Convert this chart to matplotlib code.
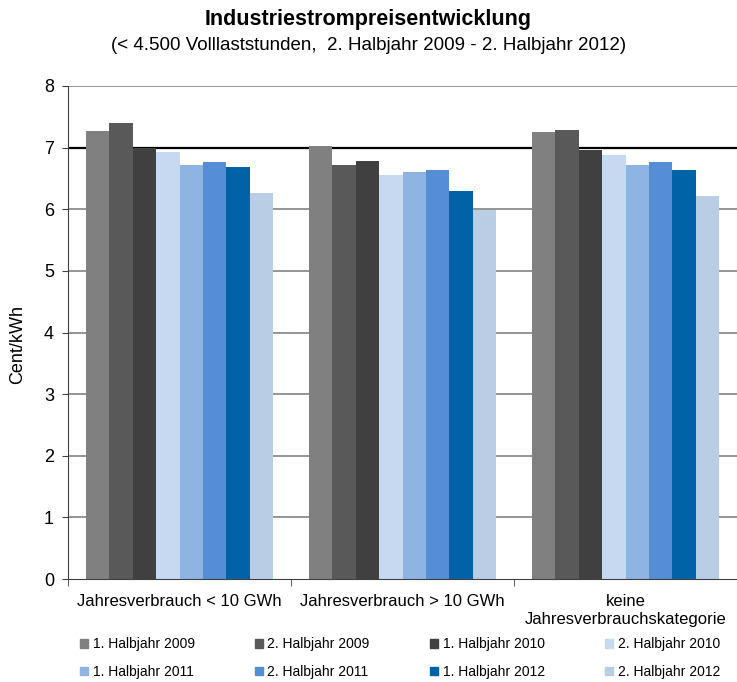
import numpy as np
import matplotlib
matplotlib.use("Agg")
import matplotlib.pyplot as plt
from matplotlib.patches import Patch

plt.rcParams['font.family'] = ['Liberation Sans', 'DejaVu Sans']

categories = ["Jahresverbrauch < 10 GWh", "Jahresverbrauch > 10 GWh",
              "keine\nJahresverbrauchskategorie"]
series_names = ["1. Halbjahr 2009", "2. Halbjahr 2009", "1. Halbjahr 2010",
                "2. Halbjahr 2010", "1. Halbjahr 2011", "2. Halbjahr 2011",
                "1. Halbjahr 2012", "2. Halbjahr 2012"]
h1_2009 = [7.27, 7.03, 7.26]
h2_2009 = [7.40, 6.72, 7.29]
h1_2010 = [6.99, 6.79, 6.96]
h2_2010 = [6.93, 6.56, 6.88]
h1_2011 = [6.72, 6.60, 6.72]
h2_2011 = [6.77, 6.63, 6.76]
h1_2012 = [6.69, 6.29, 6.63]
h2_2012 = [6.27, 5.99, 6.22]
values = [h1_2009, h2_2009, h1_2010, h2_2010, h1_2011, h2_2011, h1_2012, h2_2012]
colors = ["#808080", "#595959", "#404040", "#C6D9F1",
          "#8EB4E3", "#558ED5", "#0063A8", "#B9CDE5"]

fig = plt.figure(figsize=(7.37, 6.82), dpi=100)
ax = fig.add_axes([68 / 737, 1 - 579 / 682, 669 / 737, 493 / 682])

x = np.arange(len(categories))
n = len(series_names)
bw = 0.84 / n
for i, (vals, c) in enumerate(zip(values, colors)):
    ax.bar(x - 0.42 + bw * (i + 0.5), vals, width=bw, color=c, zorder=2)

ax.set_xlim(-0.5, 2.5)
ax.set_ylim(0, 8)
ax.set_yticks(range(0, 9))
for yv in range(1, 9):
    ax.axhline(yv, color="black" if yv == 7 else "#8c8c8c", lw=1.6 if yv == 7 else 1.3, zorder=1)

ax.set_xticks(x)
ax.set_xticklabels(categories, fontsize=12)
ax.set_xticks([-0.5, 0.5, 1.5, 2.5], minor=True)
ax.tick_params(axis='x', which='major', length=0, pad=11)
ax.tick_params(axis='x', which='minor', length=5, color="#404040")
ax.tick_params(axis='y', labelsize=13, length=4, color="#404040", pad=6)
for s in ["top", "right"]:
    ax.spines[s].set_visible(False)
ax.spines["left"].set_color("#404040")
ax.spines["bottom"].set_color("#404040")
ax.set_ylabel("Cent/kWh", fontsize=13)
ax.yaxis.set_label_coords(-0.063, 0.475)

fig.text(0.5, 1 - 19 / 682, "Industriestrompreisentwicklung", ha="center", va="center",
         fontsize=15.5, fontweight="bold")
fig.text(0.5, 1 - 46 / 682, "(< 4.500 Volllaststunden,  2. Halbjahr 2009 - 2. Halbjahr 2012)",
         ha="center", va="center", fontsize=13.5)

# legend filled row by row, 4 columns
order = [0, 4, 1, 5, 2, 6, 3, 7]
handles = [Patch(color=colors[i]) for i in order]
labels = [series_names[i] for i in order]
fig.legend(handles, labels, loc="center", bbox_to_anchor=(400 / 737, 1 - 658 / 682),
           ncol=4, frameon=False, fontsize=10, handlelength=0.6, handleheight=0.6,
           handletextpad=0.3, columnspacing=4.35, labelspacing=1.0)

fig.savefig("out.png", dpi=100)
